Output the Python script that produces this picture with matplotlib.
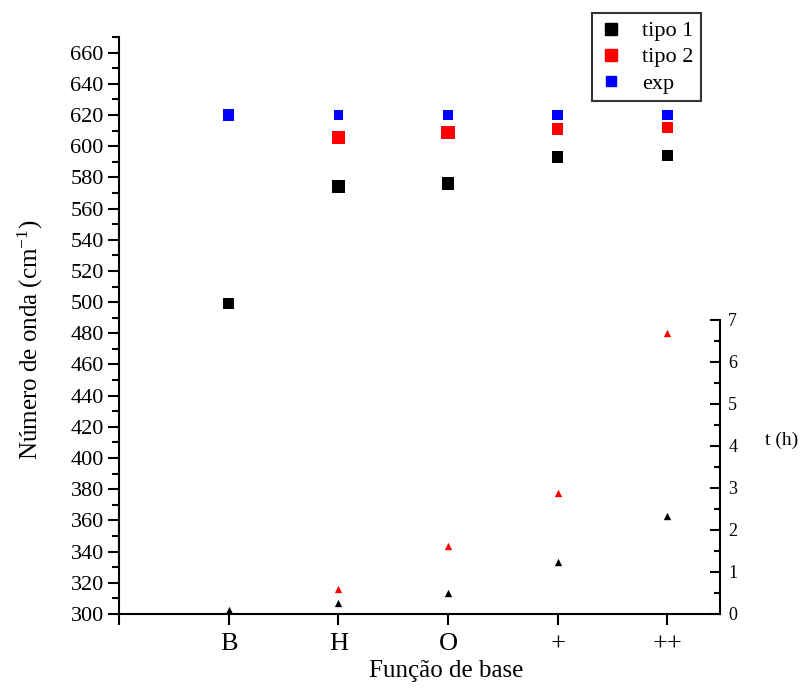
import numpy as np
import matplotlib
matplotlib.use('Agg')
import matplotlib.pyplot as plt
from matplotlib.ticker import MultipleLocator
from matplotlib.lines import Line2D

plt.rcParams['font.family'] = ['Liberation Serif', 'DejaVu Serif']
plt.rcParams['mathtext.fontset'] = 'custom'
plt.rcParams['mathtext.rm'] = 'Liberation Serif'
plt.rcParams['mathtext.it'] = 'Liberation Serif:italic'

# --- DATA ---
bases = ['B', 'H', 'O', '+', '++']
wave_tipo1 = [499, 574, 576, 593, 594]
wave_tipo2 = [np.nan, 605.5, 609, 611, 612]
wave_exp = [620, 620, 620, 620, 620]
time_tipo1 = [0.1, 0.27, 0.51, 1.24, 2.34]
time_tipo2 = [np.nan, 0.6, 1.61, 2.89, 6.68]

x = np.arange(1, len(bases) + 1)

# --- FIGURE ---
fig = plt.figure(figsize=(8.03, 6.88), dpi=100)
L, R = 119 / 803, 720 / 803
B, T = 1 - 614 / 688, 1 - 37 / 688
ax = fig.add_axes([L, B, R - L, T - B])

ax.scatter(x, wave_exp, marker='s', color='#0000ff', s=[70, 45, 45, 60, 60], zorder=3, linewidths=0)
ax.scatter(x, wave_tipo2, marker='s', color='#ff0000', s=[70, 85, 90, 65, 65], zorder=3, linewidths=0)
ax.scatter(x, wave_tipo1, marker='s', color='black', s=[70, 85, 85, 65, 65], zorder=3, linewidths=0)

ax.set_xlim(0, 5.48)
ax.set_ylim(300, 670)
ax.set_xticks([0] + list(x))
ax.set_xticklabels([''] + bases, fontsize=19)
ax.yaxis.set_major_locator(MultipleLocator(20))
ax.yaxis.set_minor_locator(MultipleLocator(10))
ax.set_yticks(np.arange(300, 661, 20))
ax.tick_params(axis='y', which='major', direction='out', length=8, width=1.5, labelsize=16, pad=3)
ax.tick_params(axis='y', which='minor', direction='out', length=5, width=1.5)
ax.tick_params(axis='x', which='major', direction='out', length=8, width=1.5, pad=6)
ax.spines['top'].set_visible(False)
ax.spines['right'].set_visible(False)
for s in ['left', 'bottom']:
    ax.spines[s].set_linewidth(1.5)

# --- INSET RIGHT AXIS (time) ---
T2 = 1 - 320 / 688
ax2 = fig.add_axes([L, B, R - L, T2 - B])
ax2.patch.set_alpha(0)
ax2.scatter(x, time_tipo2, marker='^', color='#ff0000', s=28, linewidths=0, zorder=3)
ax2.scatter(x, time_tipo1, marker='^', color='black', s=28, linewidths=0, zorder=3)
ax2.set_xlim(0, 5.48)
ax2.set_ylim(0, 7)
ax2.set_xticks([])
for s in ['top', 'left', 'bottom']:
    ax2.spines[s].set_visible(False)
ax2.spines['right'].set_linewidth(1.5)
ax2.yaxis.tick_right()
ax2.yaxis.set_major_locator(MultipleLocator(1))
ax2.yaxis.set_minor_locator(MultipleLocator(0.5))
ax2.tick_params(axis='y', which='major', direction='in', length=7, width=1.5, labelsize=13, pad=6)
ax2.tick_params(axis='y', which='minor', direction='in', length=4, width=1.5)

# --- LABELS ---
fig.text(30 / 803, 1 - 340 / 688, 'Número de onda (cm$^{-1}$)', rotation=90,
         ha='center', va='center', fontsize=18)
fig.text(446 / 803, 1 - 671 / 688, 'Função de base', ha='center', va='center', fontsize=18)
fig.text(782 / 803, 1 - 440 / 688, 't (h)', ha='center', va='center', fontsize=14)

handles = [
    Line2D([], [], marker='s', color='black', linestyle='none', markersize=8),
    Line2D([], [], marker='s', color='#ff0000', linestyle='none', markersize=8),
    Line2D([], [], marker='s', color='#0000ff', linestyle='none', markersize=6.5),
]
leg = fig.legend(handles, ['tipo 1', 'tipo 2', 'exp'], loc='upper left',
                 bbox_to_anchor=(592 / 803, 1 - 13 / 688), fontsize=16,
                 frameon=True, fancybox=False, edgecolor='black',
                 handletextpad=0.9, borderpad=0.35, labelspacing=0.25,
                 handlelength=1.0, borderaxespad=0)
leg.get_frame().set_linewidth(1.5)

fig.savefig('out.png', dpi=100)
